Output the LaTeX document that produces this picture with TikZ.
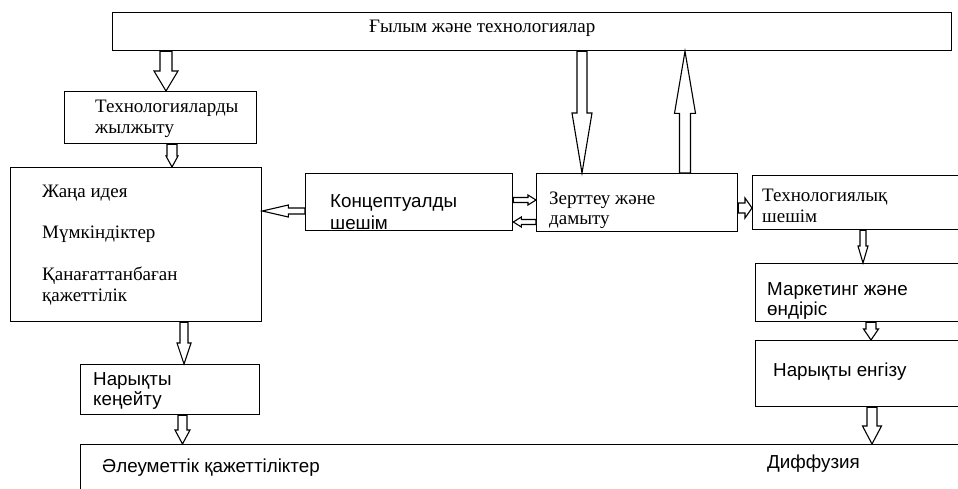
\documentclass[tikz,border=0pt]{standalone}
\usepackage{fontspec}
\setmainfont{Liberation Serif}
\newfontfamily\sansf{Liberation Sans}
\usetikzlibrary{calc}
% #1 start, #2 end, #3 shaft half width, #4 head half width, #5 head length
\newcommand\blockarrow[5]{%
  \coordinate (bah) at ($(#2)!#5!(#1)$);
  \draw[arrowline] ($(#1)!#3!90:(#2)$) -- ($(bah)!#3!90:(#2)$) -- ($(bah)!#4!90:(#2)$) -- (#2)
    -- ($(bah)!#4!-90:(#2)$) -- ($(bah)!#3!-90:(#2)$) -- ($(#1)!#3!-90:(#2)$) -- cycle;}
\begin{document}
\begin{tikzpicture}[x=1pt,y=-1pt,
  box/.style={draw, line width=1.3pt, rectangle, inner sep=0pt, anchor=north west},
  ser/.style={anchor=base west, inner sep=0pt, font=\fontsize{19}{21}\selectfont},
  san/.style={anchor=base west, inner sep=0pt, font=\sansf\fontsize{18.8}{22}\selectfont},
  arrowline/.style={draw, line width=1.1pt, fill=white, line join=miter}]
\useasboundingbox (0,0) rectangle (958,488);
\clip (0,0) rectangle (958,488);

% boxes
\node[box, minimum width=839, minimum height=38] (top) at (112,12) {};
\node[box, minimum width=192, minimum height=52] (tj) at (64,91) {};
\node[box, minimum width=251, minimum height=154] (big) at (10,167) {};
\node[box, minimum width=207, minimum height=57] (conc) at (305,173) {};
\node[box, minimum width=201, minimum height=58] (zd) at (536,173) {};
\node[box, minimum width=260, minimum height=54] (ts) at (752,175) {};
\node[box, minimum width=260, minimum height=58] (mk) at (755,263) {};
\node[box, minimum width=260, minimum height=66] (ne) at (755,340) {};
\node[box, minimum width=179, minimum height=50] (nk) at (80,364) {};
\node[box, minimum width=900, minimum height=100] (bot) at (80,444) {};

% texts
\node[ser] (t0) at (369,32) {Ғылым және технологиялар};
\node[ser] (t1) at (95,112) {Технологияларды};
\node[ser] (t2) at (95,133) {жылжыту};
\node[ser] (t3) at (42,197) {Жаңа идея};
\node[ser] (t4) at (42,238) {Мүмкіндіктер};
\node[ser] (t5) at (42,280) {Қанағаттанбаған};
\node[ser] (t6) at (42,301) {қажеттілік};
\node[san] (t7) at (330,207) {Концептуалды};
\node[san] (t8) at (330,229) {шешім};
\node[ser] (t9) at (549,204) {Зерттеу және};
\node[ser] (t10) at (549,224) {дамыту};
\node[ser] (t11) at (762,201) {Технологиялық};
\node[ser] (t12) at (762,222) {шешім};
\node[san] (t13) at (767,295) {Маркетинг және};
\node[san] (t14) at (767,315) {өндіріс};
\node[san] (t15) at (773,376) {Нарықты енгізу};
\node[san] (t16) at (93,385) {Нарықты};
\node[san] (t17) at (93,405) {кеңейту};
\node[san] (t18) at (102,472) {Әлеуметтік қажеттіліктер};
\node[san] (t19) at (767,468) {Диффузия};

% arrow positions
\coordinate (xa1) at (166,0);
\coordinate (xa2) at (172,0);
\coordinate (xa3) at (582,0);
\coordinate (xa4) at (685,0);
\coordinate (ya5) at (0,211);
\coordinate (ya6) at (0,200);
\coordinate (ya7) at (0,222);
\coordinate (ya8) at (0,208);
\coordinate (xa9) at (863,0);
\coordinate (xa10) at (871,0);
\coordinate (xa11) at (872,0);
\coordinate (xa12) at (184,0);
\coordinate (xa13) at (182.5,0);

\coordinate (s1) at (top.south -| xa1); \coordinate (e1) at (tj.north -| xa1);
\blockarrow{s1}{e1}{6pt}{12pt}{20pt}
\coordinate (s2) at (tj.south -| xa2); \coordinate (e2) at (big.north -| xa2);
\blockarrow{s2}{e2}{5pt}{6pt}{11pt}
\coordinate (s3) at (top.south -| xa3); \coordinate (e3) at (zd.north -| xa3);
\blockarrow{s3}{e3}{5pt}{10pt}{60pt}
\coordinate (s4) at (zd.north -| xa4); \coordinate (e4) at (top.south -| xa4);
\blockarrow{s4}{e4}{5.5pt}{10.5pt}{62pt}
\coordinate (s5) at (ya5 -| conc.west); \coordinate (e5) at (ya5 -| big.east);
\blockarrow{s5}{e5}{3pt}{6pt}{26pt}
\coordinate (s6) at (ya6 -| conc.east); \coordinate (e6) at (ya6 -| zd.west);
\blockarrow{s6}{e6}{2.5pt}{5pt}{8pt}
\coordinate (s7) at (ya7 -| zd.west); \coordinate (e7) at (ya7 -| conc.east);
\blockarrow{s7}{e7}{2.5pt}{5pt}{8pt}
\coordinate (s8) at (ya8 -| zd.east); \coordinate (e8) at (ya8 -| ts.west);
\blockarrow{s8}{e8}{5pt}{10pt}{7pt}
\coordinate (s9) at (ts.south -| xa9); \coordinate (e9) at (mk.north -| xa9);
\blockarrow{s9}{e9}{3pt}{5pt}{17pt}
\coordinate (s10) at (mk.south -| xa10); \coordinate (e10) at (ne.north -| xa10);
\blockarrow{s10}{e10}{5pt}{7.5pt}{11pt}
\coordinate (s11) at (ne.south -| xa11); \coordinate (e11) at (bot.north -| xa11);
\blockarrow{s11}{e11}{5pt}{9.5pt}{18pt}
\coordinate (s12) at (big.south -| xa12); \coordinate (e12) at (nk.north -| xa12);
\blockarrow{s12}{e12}{4pt}{7pt}{21pt}
\coordinate (s13) at (nk.south -| xa13); \coordinate (e13) at (bot.north -| xa13);
\blockarrow{s13}{e13}{4.5pt}{7.5pt}{14pt}
\end{tikzpicture}
\end{document}
